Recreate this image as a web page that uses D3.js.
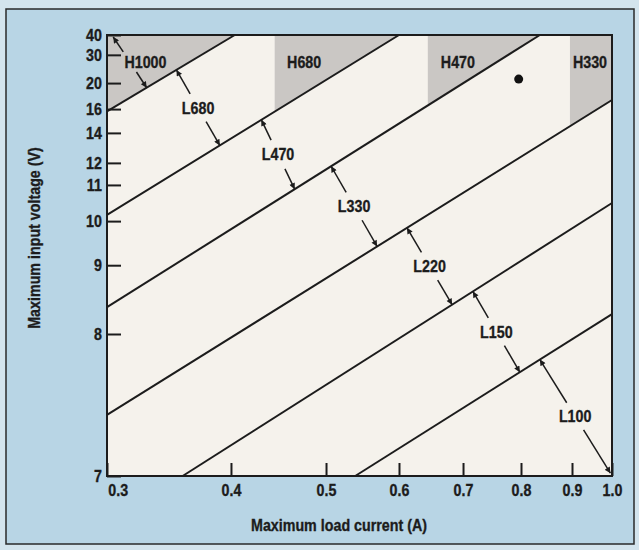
<!DOCTYPE html>
<html>
<head>
<meta charset="utf-8">
<script src="https://cdn.jsdelivr.net/npm/d3@7"></script>
<style>
  body { margin: 0; background: #d3e4ed; }
  svg { display: block; }
  text { font-family: "Liberation Sans", Arial, sans-serif; font-weight: bold; fill: #1c1c1c; stroke: #1c1c1c; stroke-width: 0.35px; }
</style>
</head>
<body>
<div id="chart"></div>
<script>
// Tick values of both axes
var currentTicks = [0.3, 0.4, 0.5, 0.6, 0.7, 0.8, 0.9, 1.0];
var voltageTicks = [7, 8, 9, 10, 11, 12, 14, 16, 20, 30, 40];

// Boundary lines between the regions: start (current, voltage) and end (current, voltage)
var lineStartA = [0.3, 0.3, 0.3, 0.3, 0.361, 0.54];
var lineStartV = [15.8, 10.17, 8.39, 7.43, 7, 7];
var lineEndA = [0.404, 0.6, 0.837, 1.0, 1.0, 1.0];
var lineEndV = [40, 40, 40, 17.4, 10.5, 8.29];

// Shaded heat sink zones: name, current where the zone starts, line under it, label position
var hNames = ["H1000", "H680", "H470", "H330"];
var hFrom = [0.3, 0.446, 0.645, 0.896];
var hLine = [0, 1, 2, 3];
var hLabelA = [0.331, 0.477, 0.692, 0.945];
var hLabelV = 27.5;

// L zones: label, the two lines the arrow joins and the current where it touches them
var lNames = ["L680", "L470", "L330", "L220", "L150", "L100"];
var lUpperLine = [0, 1, 2, 3, 4, 5];
var lUpperA = [0.356, 0.432, 0.507, 0.6125, 0.717, 0.837];
var lLowerLine = [1, 2, 3, 4, 5, null];
var lLowerA = [0.391, 0.467, 0.570, 0.683, 0.798, 0.996];
var lLowerV = [null, null, null, null, null, 7.02];

// Single measured point
var pointA = [0.796];
var pointV = [21.4];

var width = 639, height = 550;
var margin = {top: 35, right: 27, bottom: 74, left: 107};
var innerWidth = width - margin.left - margin.right;
var innerHeight = height - margin.top - margin.bottom;

// condensed look of the printed type
var squeeze = 0.84;

// The printed axes are not evenly spaced: tick stops as a fraction of the plot box
var xStops = [0, 0.2455, 0.4337, 0.5782, 0.705, 0.8198, 0.9208, 1];
var yStops = [0, 0.322, 0.478, 0.578, 0.660, 0.710, 0.778, 0.832, 0.891, 0.955, 1];

var x = d3.scaleLinear()
  .domain(currentTicks)
  .range(xStops.map(function(f){ return margin.left + f * innerWidth; }));

var y = d3.scaleLinear()
  .domain(voltageTicks)
  .range(yStops.map(function(f){ return margin.top + innerHeight - f * innerHeight; }));

var svg = d3.select("#chart").append("svg")
  .attr("width", width)
  .attr("height", height);

// Arrow head
svg.append("defs").append("marker")
  .attr("id", "head")
  .attr("viewBox", "0 0 10 10")
  .attr("refX", 10).attr("refY", 5)
  .attr("markerWidth", 10).attr("markerHeight", 6)
  .attr("markerUnits", "userSpaceOnUse")
  .attr("orient", "auto")
  .append("path")
  .attr("d", "M0,0L10,5L0,10z")
  .attr("fill", "#1c1c1c");

// Blue frame
svg.append("rect")
  .attr("x", 6).attr("y", 9)
  .attr("width", 628).attr("height", 535)
  .attr("fill", "#b8d5e5")
  .attr("stroke", "#2a2a2a")
  .attr("stroke-width", 1.5);

// Plot background
svg.append("rect")
  .attr("x", margin.left).attr("y", margin.top)
  .attr("width", innerWidth).attr("height", innerHeight)
  .attr("fill", "#f5f2ec");

// Pixel coordinates of a boundary line
function linePx(i){
  return [[x(lineStartA[i]), y(lineStartV[i])], [x(lineEndA[i]), y(lineEndV[i])]];
}
// Pixel y of line i at pixel x px
function lineY(i, px){
  var p = linePx(i);
  return p[0][1] + (px - p[0][0]) * (p[1][1] - p[0][1]) / (p[1][0] - p[0][0]);
}

// Shaded H zones: above the line, right of the start current
var plotTop = y(40);
hNames.forEach(function(name, i){
  var xs = x(hFrom[i]);
  var end = linePx(hLine[i])[1];
  var pts = [[xs, plotTop], [end[0], plotTop]];
  if (end[1] > plotTop + 0.5) pts.push([end[0], end[1]]);
  pts.push([xs, lineY(hLine[i], xs)]);
  svg.append("path")
    .attr("d", d3.line()(pts) + "Z")
    .attr("fill", "#cac7c4");
});

// Boundary lines
svg.selectAll(".bound")
  .data(lineStartA)
  .enter()
  .append("line")
  .attr("class", "bound")
  .attr("x1", function(d, i){ return x(lineStartA[i]); })
  .attr("y1", function(d, i){ return y(lineStartV[i]); })
  .attr("x2", function(d, i){ return x(lineEndA[i]); })
  .attr("y2", function(d, i){ return y(lineEndV[i]); })
  .attr("stroke", "#1c1c1c")
  .attr("stroke-width", 2);

// Axes with inward ticks
var gY = svg.append("g")
  .attr("transform", "translate(" + margin.left + ",0)")
  .call(d3.axisLeft(y).tickValues(voltageTicks).tickFormat(d3.format("d")).tickSize(-14).tickPadding(6));
var gX = svg.append("g")
  .attr("transform", "translate(0," + (margin.top + innerHeight) + ")")
  .call(d3.axisBottom(x).tickValues(currentTicks).tickFormat(d3.format(".1f")).tickSize(-13).tickPadding(8));

[gX, gY].forEach(function(g){
  g.select(".domain").remove();
  g.selectAll(".tick line").attr("stroke", "#1c1c1c").attr("stroke-width", 2);
  g.selectAll(".tick text")
    .attr("font-size", 17)
    .attr("fill", "#1c1c1c")
    .attr("transform", "scale(" + squeeze + ",1)");
});
gX.selectAll(".tick text").filter(function(d){ return d === 0.3; }).attr("text-anchor", "start").attr("x", 1);

// Plot border
svg.append("rect")
  .attr("x", margin.left).attr("y", margin.top)
  .attr("width", innerWidth).attr("height", innerHeight)
  .attr("fill", "none")
  .attr("stroke", "#1c1c1c")
  .attr("stroke-width", 2);

// Double arrow from a centre to two tips, broken where the label sits
function doubleArrow(c, tips, gap){
  tips.forEach(function(t){
    var dx = t[0] - c[0], dy = t[1] - c[1];
    var len = Math.sqrt(dx * dx + dy * dy);
    svg.append("line")
      .attr("x1", c[0] + dx * gap / len)
      .attr("y1", c[1] + dy * gap / len)
      .attr("x2", t[0]).attr("y2", t[1])
      .attr("stroke", "#1c1c1c")
      .attr("stroke-width", 1.5)
      .attr("marker-end", "url(#head)");
  });
}

// Condensed text centred on a point
function label(txt, px, py, size){
  svg.append("g")
    .attr("transform", "translate(" + px + "," + py + ")")
    .append("text")
    .attr("transform", "scale(" + squeeze + ",1)")
    .attr("y", Math.round(size * 0.36))
    .attr("text-anchor", "middle")
    .attr("font-size", size)
    .text(txt);
}

// L zone labels
lNames.forEach(function(name, i){
  var ax = x(lUpperA[i]);
  var a = [ax, lineY(lUpperLine[i], ax)];
  var bx = x(lLowerA[i]);
  var b = lLowerLine[i] === null ? [bx, y(lLowerV[i])] : [bx, lineY(lLowerLine[i], bx)];
  var c = [(a[0] + b[0]) / 2, (a[1] + b[1]) / 2];
  doubleArrow(c, [a, b], 16);
  label(name, c[0], c[1], 17);
});

// H zone labels
hNames.forEach(function(name, i){
  label(name, x(hLabelA[i]), y(hLabelV), 17);
});
// H1000 also points to the corner and to its line
doubleArrow([x(0.3185), y(hLabelV)], [[x(0.305), y(39)], [x(0.332), lineY(0, x(0.332))]], 12);

// Point
svg.selectAll(".pt")
  .data(pointA)
  .enter()
  .append("circle")
  .attr("class", "pt")
  .attr("cx", function(d){ return x(d); })
  .attr("cy", function(d, i){ return y(pointV[i]); })
  .attr("r", 4.5)
  .attr("fill", "#111");

// Axis titles
label("Maximum load current (A)", 339, 525, 17);

svg.append("g")
  .attr("transform", "translate(34,238)rotate(-90)")
  .append("text")
  .attr("transform", "scale(" + squeeze + ",1)")
  .attr("y", 6)
  .attr("text-anchor", "middle")
  .attr("font-size", 17)
  .text("Maximum input voltage (V)");
</script>
</body>
</html>
